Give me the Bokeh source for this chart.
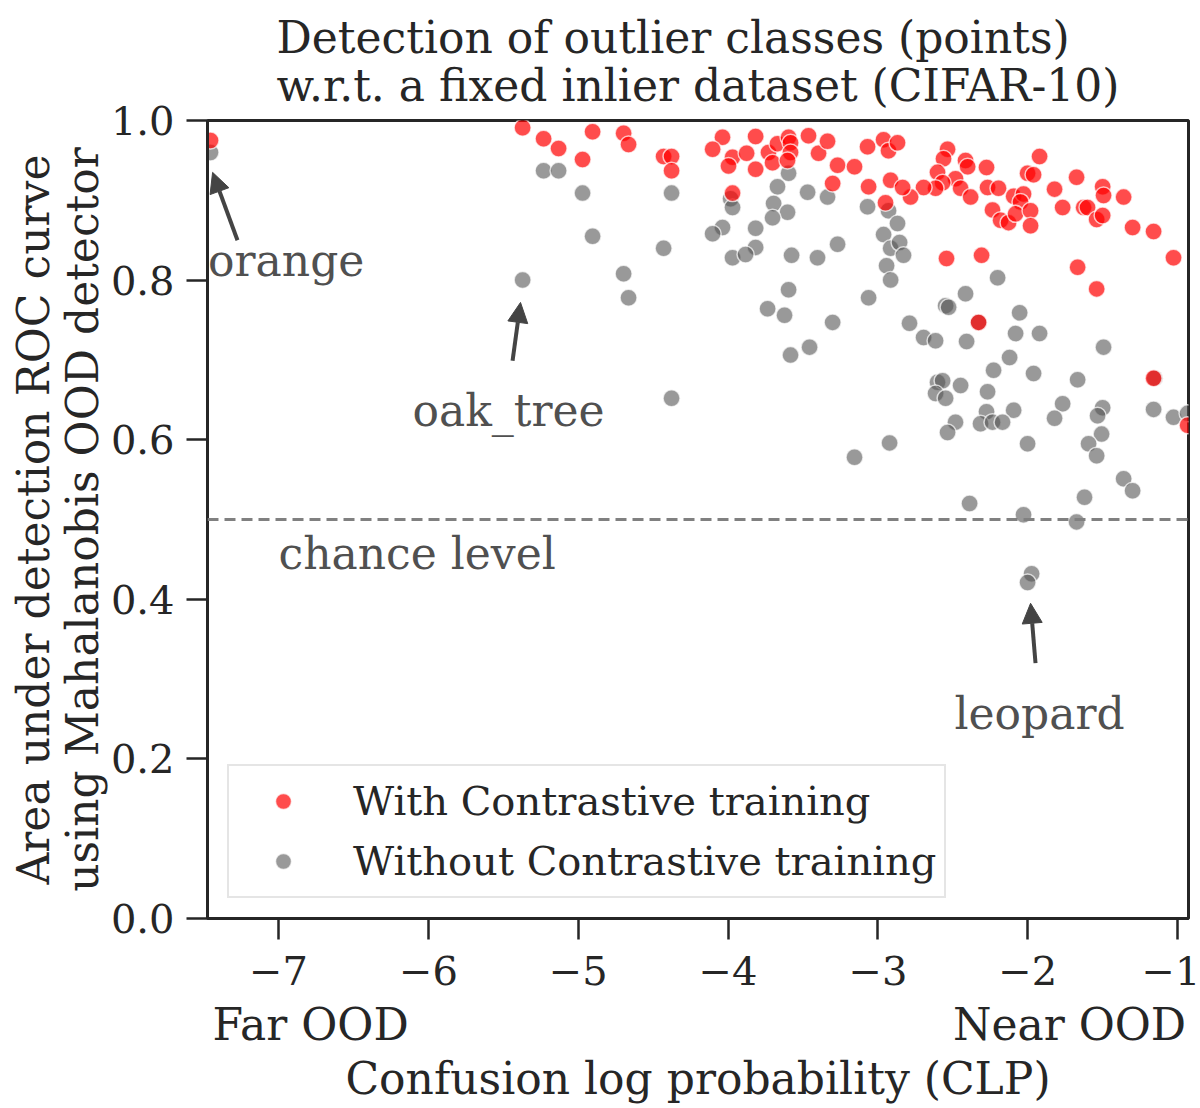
from bokeh.plotting import figure
from bokeh.models import (Range1d, FixedTicker, CustomJSTickFormatter, Span, Label,
                          Arrow, NormalHead, Legend, LegendItem, LinearAxis)
from bokeh.embed import file_html
from bokeh.resources import INLINE

FONT = "DejaVu Serif"
INK = "#262626"
NOTE = "#505050"
BIG = "44px"
TICK = "40px"

# AUROC of each CIFAR-100 outlier class vs. its confusion log probability
with_clp = [
    -7.454, -5.371, -5.231, -5.131, -4.971, -4.904, -4.697, -4.664, -4.430, -4.377,
    -4.377, -4.037, -4.103, -3.970, -3.997, -3.816, -3.876, -3.816, -3.730, -3.670,
    -3.703, -3.596, -3.583, -3.583, -3.603, -3.463, -3.396, -3.336, -3.269, -3.156,
    -3.302, -3.069, -3.062, -2.962, -2.929, -2.869, -2.915, -2.949, -3.970, -2.535,
    -2.562, -2.415, -2.401, -2.602, -2.482, -2.568, -2.615, -2.448, -2.381, -2.695,
    -2.782, -2.835, -2.275, -2.268, -2.195, -2.235, -2.181, -2.128, -2.094, -2.028,
    -2.048, -2.081, -1.981, -1.981, -2.001, -1.961, -1.921, -1.821, -1.767, -1.674,
    -1.627, -1.601, -1.540, -1.500, -1.494, -1.500, -1.360, -1.300, -1.160, -1.027,
    -2.542, -2.308, -1.667, -1.540, -2.328, -1.160, -0.933,
]
with_auc = [
    0.975, 0.991, 0.977, 0.965, 0.951, 0.986, 0.984, 0.970, 0.955, 0.955,
    0.937, 0.979, 0.964, 0.954, 0.943, 0.980, 0.959, 0.939, 0.960, 0.971,
    0.947, 0.979, 0.972, 0.960, 0.950, 0.981, 0.959, 0.974, 0.944, 0.942,
    0.921, 0.967, 0.917, 0.976, 0.962, 0.972, 0.925, 0.897, 0.909, 0.964,
    0.952, 0.950, 0.942, 0.935, 0.927, 0.922, 0.915, 0.915, 0.904, 0.916,
    0.904, 0.916, 0.941, 0.916, 0.915, 0.888, 0.875, 0.872, 0.905, 0.908,
    0.898, 0.883, 0.887, 0.868, 0.934, 0.932, 0.955, 0.914, 0.891, 0.929,
    0.891, 0.891, 0.876, 0.917, 0.906, 0.881, 0.904, 0.866, 0.861, 0.828,
    0.827, 0.831, 0.816, 0.789, 0.747, 0.677, 0.618,
]
without_clp = [
    -7.454, -5.231, -5.131, -4.971, -4.904, -5.371, -4.377, -4.430, -4.697, -4.664,
    -4.377, -3.596, -3.670, -3.469, -3.336, -3.983, -3.970, -3.696, -3.603, -3.703,
    -4.037, -4.103, -3.816, -3.816, -3.970, -3.883, -3.576, -3.403, -3.269, -3.596,
    -3.736, -3.623, -3.302, -3.456, -3.583, -3.069, -3.062, -2.962, -2.915, -2.942,
    -2.915, -2.929, -2.869, -2.855, -2.829, -2.201, -2.415, -2.548, -2.528, -2.054,
    -2.789, -2.328, -2.695, -2.615, -2.408, -2.081, -1.921, -1.494, -2.121, -2.228,
    -1.961, -1.667, -1.153, -2.602, -2.568, -2.615, -2.548, -2.448, -2.268, -1.767,
    -1.821, -1.500, -1.534, -1.160, -1.027, -0.933, -2.482, -2.535, -2.275, -2.094,
    -2.315, -2.235, -2.168, -2.922, -2.001, -1.507, -1.594, -1.540, -1.360, -1.300,
    -1.621, -2.388, -2.028, -1.674, -1.974, -2.001, -3.156,
]
without_auc = [
    0.960, 0.937, 0.937, 0.909, 0.855, 0.800, 0.909, 0.840, 0.808, 0.778,
    0.652, 0.934, 0.917, 0.910, 0.904, 0.902, 0.891, 0.896, 0.885, 0.878,
    0.866, 0.858, 0.865, 0.841, 0.828, 0.832, 0.831, 0.828, 0.845, 0.788,
    0.764, 0.756, 0.747, 0.716, 0.706, 0.892, 0.778, 0.857, 0.840, 0.818,
    0.800, 0.887, 0.871, 0.847, 0.831, 0.803, 0.783, 0.768, 0.766, 0.759,
    0.746, 0.747, 0.728, 0.724, 0.723, 0.733, 0.733, 0.716, 0.703, 0.687,
    0.683, 0.675, 0.677, 0.672, 0.674, 0.658, 0.652, 0.668, 0.660, 0.645,
    0.627, 0.640, 0.630, 0.638, 0.628, 0.633, 0.622, 0.609, 0.635, 0.637,
    0.620, 0.622, 0.622, 0.596, 0.595, 0.607, 0.595, 0.580, 0.551, 0.536,
    0.528, 0.520, 0.506, 0.497, 0.432, 0.421, 0.578,
]

x_ticks = [-7, -6, -5, -4, -3, -2, -1]
y_ticks = [0.0, 0.2, 0.4, 0.6, 0.8, 1.0]
# where the two ends of the CLP scale are named
ood_ends = [-6.786, -1.721]
chance = 0.5

p = figure(width=1200, height=1108, output_backend="svg", toolbar_location=None,
           x_range=Range1d(-7.474, -0.927), y_range=Range1d(0.0, 1.0),
           min_border_left=207, min_border_right=12, min_border_top=120,
           min_border_bottom=190)

p.title.text = "Detection of outlier classes (points)\nw.r.t. a fixed inlier dataset (CIFAR-10)"
p.title.align = "center"
p.title.text_font = FONT
p.title.text_font_size = BIG
p.title.text_font_style = "normal"
p.title.text_color = INK
p.title.text_line_height = 0.95
p.title.standoff = 19

p.xgrid.visible = False
p.ygrid.visible = False
p.outline_line_color = INK
p.outline_line_width = 3
p.background_fill_color = "white"
p.border_fill_color = "white"

for ax in (p.xaxis[0], p.yaxis[0]):
    ax.axis_line_color = INK
    ax.axis_line_width = 3
    ax.major_tick_line_color = INK
    ax.major_tick_line_width = 2.5
    ax.major_tick_out = 21
    ax.major_tick_in = 0
    ax.minor_tick_line_color = None
    ax.major_label_text_font = FONT
    ax.major_label_text_font_size = TICK
    ax.major_label_text_color = INK
    ax.axis_label_text_font = FONT
    ax.axis_label_text_font_size = BIG
    ax.axis_label_text_font_style = "normal"
    ax.axis_label_text_color = INK

p.xaxis.ticker = FixedTicker(ticks=x_ticks)
p.xaxis.formatter = CustomJSTickFormatter(
    code="return tick < 0 ? '\u2212' + Math.abs(tick) : String(tick);")
p.xaxis.major_label_standoff = 16
p.yaxis.ticker = FixedTicker(ticks=y_ticks)
p.yaxis.formatter = CustomJSTickFormatter(code="return tick.toFixed(1);")
p.yaxis.major_label_standoff = 12
p.yaxis.axis_label = "Area under detection ROC curve\nusing Mahalanobis OOD detector"
p.yaxis.axis_label_standoff = 0
p.yaxis.axis_label_text_line_height = 0.95

# second row under the ticks: the named ends of the scale plus the axis title
ends_axis = LinearAxis(ticker=FixedTicker(ticks=ood_ends),
                       formatter=CustomJSTickFormatter(
                           code="return tick < -4 ? 'Far OOD' : 'Near OOD';"),
                       axis_line_color=None, major_tick_line_color=None,
                       minor_tick_line_color=None, major_tick_out=0, major_tick_in=0,
                       major_label_standoff=11,
                       major_label_text_font=FONT, major_label_text_font_size=BIG,
                       major_label_text_color=INK,
                       axis_label="Confusion log probability (CLP)",
                       axis_label_standoff=0,
                       axis_label_text_font=FONT, axis_label_text_font_size=BIG,
                       axis_label_text_font_style="normal", axis_label_text_color=INK)
p.add_layout(ends_axis, "below")

# chance level
p.add_layout(Span(location=chance, dimension="width", line_color="#808080",
                  line_width=3, line_dash="11 6"))

r_without = p.scatter(without_clp, without_auc, size=17, fill_color="#555555",
                      fill_alpha=0.6, line_color="white", line_alpha=0.7, line_width=1.5)
r_with = p.scatter(with_clp, with_auc, size=17, fill_color="#ff0000",
                   fill_alpha=0.7, line_color="white", line_alpha=0.7, line_width=1.5)

legend = Legend(items=[LegendItem(label="With Contrastive training", renderers=[r_with]),
                       LegendItem(label="Without Contrastive training", renderers=[r_without])],
                location="bottom_left", margin=20, padding=8, spacing=6,
                glyph_width=92, glyph_height=40, label_height=54, label_standoff=24,
                label_text_font=FONT, label_text_font_size=TICK, label_text_color=INK,
                border_line_color="#cccccc", border_line_width=2,
                background_fill_color="white", background_fill_alpha=0.8)
p.add_layout(legend)

def note(text, x, y, align="center"):
    p.add_layout(Label(x=x, y=y, text=text, text_font=FONT, text_font_size=BIG,
                       text_color=NOTE, text_align=align, text_baseline="middle"))

def pointer(x0, y0, x1, y1):
    p.add_layout(Arrow(x_start=x0, y_start=y0, x_end=x1, y_end=y1,
                       line_color="#444444", line_width=4,
                       end=NormalHead(size=20, fill_color="#444444",
                                      line_color="#444444", line_width=1)))

note("orange", -7.47, 0.825, align="left")
pointer(-7.274, 0.850, -7.440, 0.935)
note("oak_tree", -5.465, 0.637)
pointer(-5.438, 0.699, -5.385, 0.772)
note("leopard", -1.921, 0.257)
pointer(-1.948, 0.320, -1.981, 0.395)
note("chance level", -7.0, 0.457, align="left")

open("out.html", "w").write(file_html(p, INLINE))
